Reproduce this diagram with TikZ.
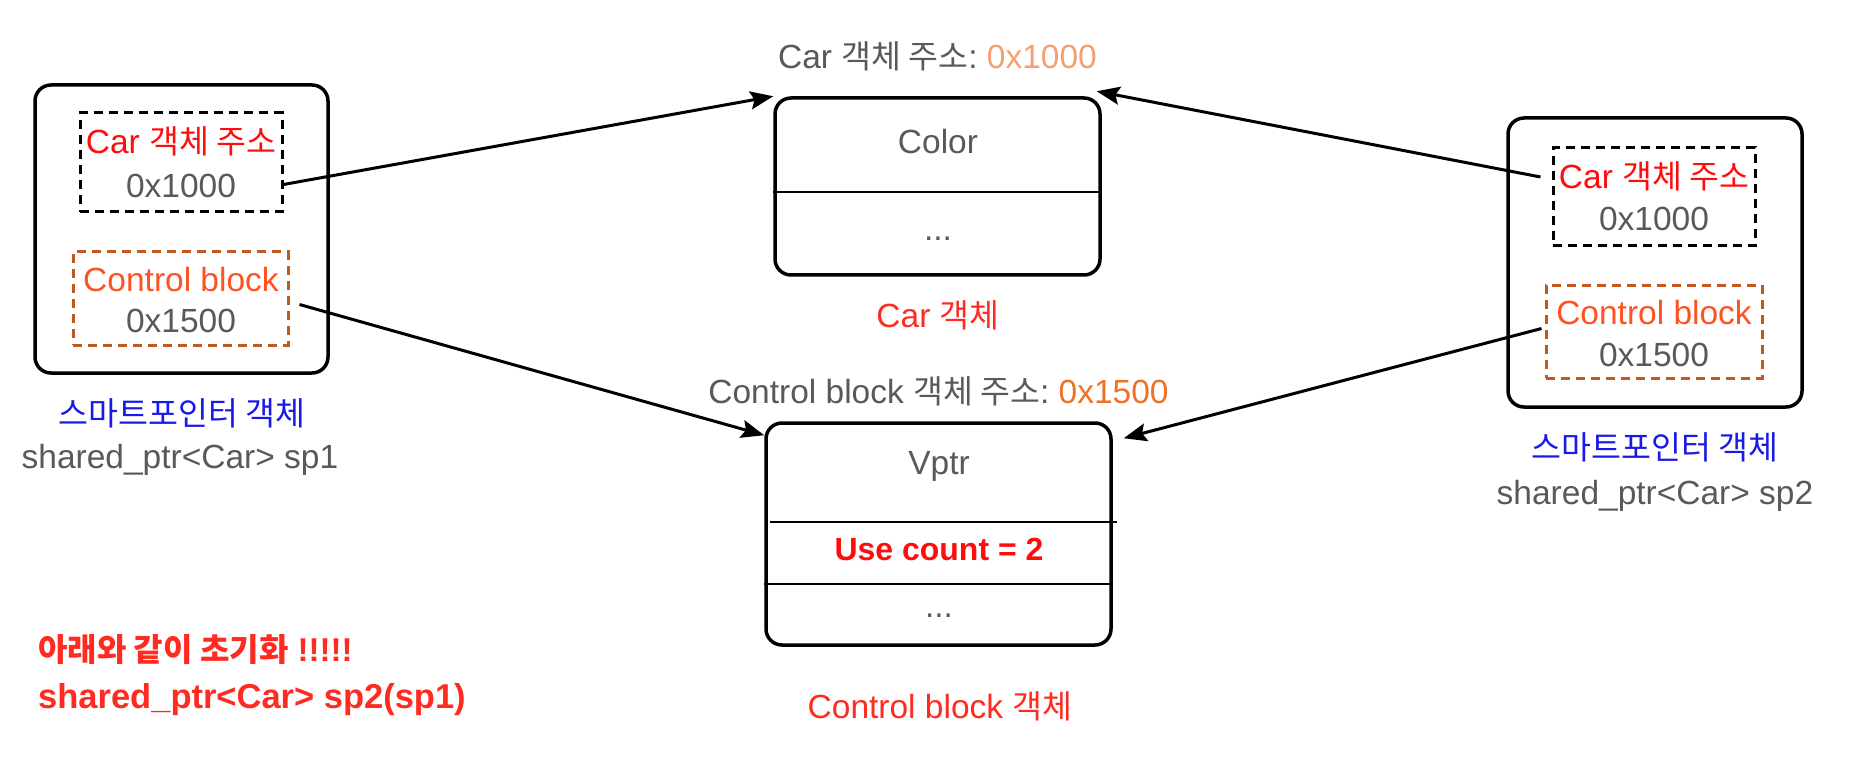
\documentclass[tikz,border=0pt]{standalone}
\usepackage{fontspec}
\setmainfont{Liberation Sans}
\newfontfamily\krfont[Scale=0.97]{Noto Sans CJK KR}
\newcommand\ko[1]{{\krfont #1}}
\usetikzlibrary{arrows.meta}
\definecolor{tgray}{HTML}{595959}
\definecolor{redA}{HTML}{FF0D0D}
\definecolor{redB}{HTML}{FF2A20}
\definecolor{cbred}{HTML}{FF5221}
\definecolor{dashor}{HTML}{C1581F}
\definecolor{kblue}{HTML}{1A1AE6}
\definecolor{lorange}{HTML}{F4A070}
\definecolor{morange}{HTML}{F07026}
\begin{document}
\begin{tikzpicture}[x=1pt,y=-1pt,
  txt/.style={font=\fontsize{33.5}{40}\selectfont, text height=24pt, text depth=0pt, inner sep=0pt, anchor=center, text=tgray},
  bigbox/.style={draw=black, line width=3.5pt, rounded corners=16pt, inner sep=0pt},
  blackdash/.style={draw=black, line width=3pt, dash pattern=on 9pt off 6pt, inner sep=0pt},
  ordash/.style={draw=dashor, line width=3pt, dash pattern=on 9pt off 6pt, inner sep=0pt},
  divider/.style={draw=black, line width=1.6pt},
  arr/.style={draw=black, line width=3pt, -{Stealth[length=23pt,width=18pt,inset=4pt]}}]
\useasboundingbox (0,0) rectangle (1856,762);

% left smart pointer
\node[bigbox, minimum width=293pt, minimum height=288pt] (lsp) at (181.5,229) {};
\node[blackdash, minimum width=202pt, minimum height=99pt] (lcar) at (181,162.5) {};
\node[ordash, minimum width=215pt, minimum height=93pt] (lcb) at (180.5,298.5) {};
\node[txt, text=redA] (lcart) at (181,142) {Car \ko{객체 주소}};
\node[txt] (lcarv) at (181,186) {0x1000};
\node[txt, text=cbred] (lcbt) at (181,279) {Control block};
\node[txt] (lcbv) at (181,320) {0x1500};
\node[txt, text=kblue] (lspt) at (182,413) {\ko{스마트포인터 객체}};
\node[txt] (lspn) at (180,456) {shared\_ptr<Car> sp1};

% right smart pointer
\node[bigbox, minimum width=294pt, minimum height=289pt] (rsp) at (1655,262.5) {};
\node[blackdash, minimum width=202pt, minimum height=98pt] (rcar) at (1654,197) {};
\node[ordash, minimum width=216pt, minimum height=93pt] (rcb) at (1654,331.5) {};
\node[txt, text=redA] (rcart) at (1654,177) {Car \ko{객체 주소}};
\node[txt] (rcarv) at (1654,219) {0x1000};
\node[txt, text=cbred] (rcbt) at (1654,312) {Control block};
\node[txt] (rcbv) at (1654,354) {0x1500};
\node[txt, text=kblue] (rspt) at (1655,447) {\ko{스마트포인터 객체}};
\node[txt] (rspn) at (1655,492) {shared\_ptr<Car> sp2};

% Car object
\node[txt] (carh) at (937.5,57) {Car \ko{객체 주소}:~\textcolor{lorange}{0x1000}};
\node[bigbox, minimum width=325pt, minimum height=177pt] (car) at (937.5,186.5) {};
\draw[divider] ([yshift=-5.5pt]car.west) -- ([yshift=-5.5pt]car.east);
\node[txt] (color) at (938,142) {Color};
\node[txt, anchor=base] (cdots) at (938,241) {...};
\node[txt, text=redB] (carl) at (938,315) {Car \ko{객체}};

% Control block object
\node[txt] (cbh) at (938.5,391) {Control block \ko{객체 주소}:~\textcolor{morange}{0x1500}};
\node[bigbox, minimum width=345pt, minimum height=222pt] (cb) at (938.5,534) {};
\draw[divider] ([xshift=6pt,yshift=12pt]cb.west) -- ([xshift=4pt,yshift=12pt]cb.east);
\draw[divider] ([yshift=-50pt]cb.west) -- ([yshift=-50pt]cb.east);
\node[txt] (vptr) at (939,462) {Vptr};
\node[txt, text=redA, text height=23pt, font=\fontsize{32}{38}\selectfont\bfseries] (use) at (939,549) {Use count = 2};
\node[txt, anchor=base] (cbdots) at (939,617) {...};
\node[txt, text=redB] (cbl) at (940,706) {Control block \ko{객체}};

% arrows
\draw[arr] ([yshift=-22pt]lcar.east) -- (car.north west);
\draw[arr] ([xshift=-11pt,yshift=20pt]rcar.west) -- ([xshift=-5pt,yshift=5pt]car.north east);
\draw[arr] ([xshift=10pt,yshift=-6pt]lcb.east) -- ([yshift=-14pt]cb.north west);
\draw[arr] ([xshift=-3pt,yshift=3pt]rcb.west) -- ([xshift=11pt,yshift=-17pt]cb.north east);

% bottom note
\node[txt, anchor=west, text=redB, text height=24pt, font=\fontsize{33}{40}\selectfont\bfseries] (note1) at (38,649) {\ko{\bfseries 아래와 같이 초기화} !!!!!};
\node[txt, anchor=west, text=redB, text height=25pt, font=\fontsize{34.5}{40}\selectfont\bfseries] (note2) at (38,696) {shared\_ptr<Car> sp2(sp1)};
\end{tikzpicture}
\end{document}
